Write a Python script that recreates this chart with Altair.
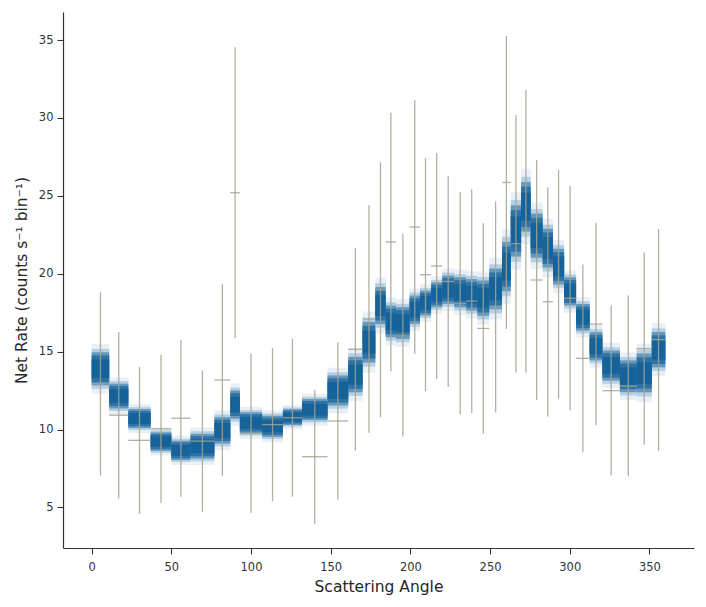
import altair as alt
import pandas as pd

# bin edges of scattering angle (degrees)
edges = [0, 11, 23, 37, 50, 62, 77, 87, 93, 107, 120, 132, 148, 161, 170, 178,
         184.5, 191, 199.5, 206, 213, 220, 227.5, 235, 242, 249.5, 257.5, 263,
         269.5, 275.5, 283, 289.5, 296.5, 304, 312.5, 320.5, 331.5, 342, 351.5, 360]

# observed net rate and 1-sigma error per bin
rate = [12.93, 10.92, 9.31, 10.05, 10.73, 9.26, 13.18, 25.2, 9.77, 10.32,
        10.76, 8.26, 10.55, 15.15, 17.1, 18.97, 22.04, 16.06, 23.0, 19.94,
        20.5, 19.5, 18.1, 18.25, 16.49, 17.87, 25.86, 21.93, 22.73, 19.6,
        18.2, 19.33, 18.43, 14.57, 16.77, 12.5, 12.8, 15.2, 15.77]
err = [5.88, 5.34, 4.71, 4.76, 5.04, 4.54, 6.18, 9.33, 5.1, 4.92,
       5.07, 4.3, 5.05, 6.5, 7.3, 8.18, 8.3, 6.5, 8.14, 7.48,
       7.25, 6.77, 7.14, 7.18, 6.76, 6.77, 9.4, 8.26, 9.06, 7.69,
       7.36, 7.34, 7.21, 6.02, 6.49, 5.45, 5.8, 6.17, 7.12]

# model posterior band (dense core) per bin
model_lo = [12.9, 11.4, 10.13, 8.67, 8.08, 8.18, 9.15, 10.75, 9.79, 9.57,
            10.32, 10.64, 11.6, 12.46, 14.38, 16.84, 15.98, 15.88, 16.84, 17.37,
            17.9, 18.12, 17.9, 17.7, 17.37, 17.8, 18.97, 21.2, 22.8, 21.11,
            20.47, 19.4, 18.01, 16.4, 14.49, 13.2, 12.46, 12.46, 14.06]
model_hi = [14.9, 12.9, 11.28, 9.79, 9.25, 9.68, 10.75, 12.46, 11.07, 10.85,
            11.28, 11.92, 13.42, 14.6, 16.84, 19.08, 17.9, 17.8, 18.55, 18.87,
            19.4, 19.83, 19.72, 19.6, 19.5, 20.26, 21.96, 24.3, 25.8, 23.78,
            22.82, 21.54, 19.72, 18.01, 16.2, 15.02, 14.38, 14.81, 16.2]

x_ticks = [0, 50, 100, 150, 200, 250, 300, 350]
y_ticks = [5, 10, 15, 20, 25, 30, 35]

df = pd.DataFrame({
    "lo": edges[:-1],
    "hi": edges[1:],
    "rate": rate,
    "err": err,
    "mlo": model_lo,
    "mhi": model_hi,
})

FONT = "DejaVu Sans"
xscale = alt.Scale(domain=[-18, 378], nice=False, zero=False)
yscale = alt.Scale(domain=[2.4, 36.8], nice=False, zero=False)

base = alt.Chart(df).transform_calculate(
    mid="(datum.lo + datum.hi) / 2",
    c="(datum.mlo + datum.mhi) / 2",
    w="datum.mhi - datum.mlo",
    elo="datum.rate - datum.err",
    ehi="datum.rate + datum.err",
)

xax = alt.Axis(values=x_ticks, title="Scattering Angle", grid=False,
               labelFontSize=11.5, titleFontSize=15.5, titleFontWeight="normal",
               labelFont=FONT, titleFont=FONT, labelColor="#333333",
               titleColor="#262626", domainColor="#333333", tickColor="#333333",
               tickSize=6, labelPadding=7, titlePadding=7, domainWidth=1.2,
               tickWidth=1.1, labelFlush=False)
yax = alt.Axis(values=y_ticks, title="Net Rate (counts s⁻¹ bin⁻¹)", grid=False,
               labelFontSize=11.5, titleFontSize=15.5, titleFontWeight="normal",
               labelFont=FONT, titleFont=FONT, labelColor="#333333",
               titleColor="#262626", domainColor="#333333", tickColor="#333333",
               tickSize=6, labelPadding=4, titlePadding=9, domainWidth=1.2,
               tickWidth=1.1, labelFlush=False)


def band(k, color):
    return base.transform_calculate(
        b0=f"datum.c - {k} * datum.w", b1=f"datum.c + {k} * datum.w"
    ).mark_rect(color=color).encode(
        x=alt.X("lo:Q", scale=xscale, axis=xax),
        x2="hi:Q",
        y=alt.Y("b0:Q", scale=yscale, axis=yax),
        y2="b1:Q",
    )


layers = [
    band(0.80, "#e8f0f6"),
    band(0.64, "#b6cfe1"),
    band(0.53, "#6498bd"),
    band(0.43, "#2e73a4"),
    band(0.30, "#15639a"),
]

vbar = base.mark_rule(color="#a3a393", strokeWidth=1.3, opacity=0.85).encode(
    x=alt.X("mid:Q", scale=xscale),
    y=alt.Y("elo:Q", scale=yscale),
    y2="ehi:Q",
)
hbar = base.mark_rule(color="#a3a393", strokeWidth=1.3, opacity=0.85).encode(
    x=alt.X("lo:Q", scale=xscale),
    x2="hi:Q",
    y=alt.Y("rate:Q", scale=yscale),
)

chart = alt.layer(*layers, vbar, hbar).properties(
    width=631,
    height=536,
    background="white",
    autosize=alt.AutoSizeParams(type="none"),
    padding={"left": 55, "top": 4, "right": 4, "bottom": 51},
).configure_view(strokeWidth=0)

chart.save("out.html", embed_options={"renderer": "svg", "actions": False})
